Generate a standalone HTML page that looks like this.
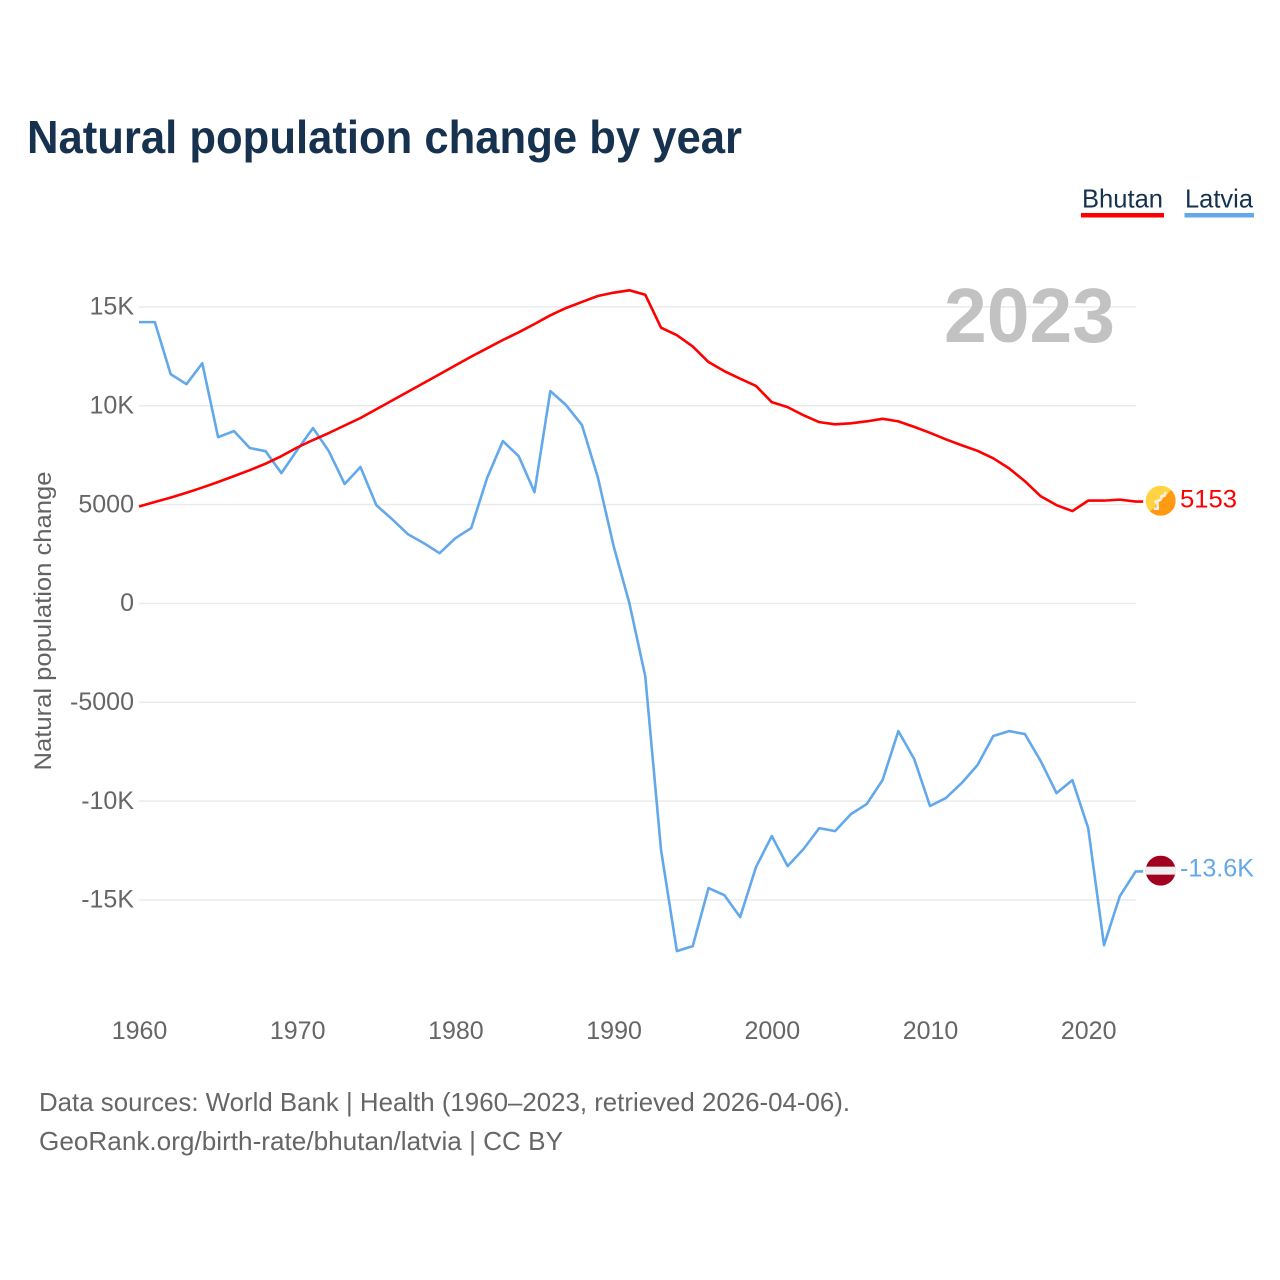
<!DOCTYPE html>
<html lang="en">
<head>
<meta charset="utf-8">
<title>Natural population change by year</title>
<style>
html,body{margin:0;padding:0;background:#fff;width:1280px;height:1280px;overflow:hidden}
svg{display:block}
text{font-family:"Liberation Sans",sans-serif}
</style>
</head>
<body>
<svg id="chart" xmlns="http://www.w3.org/2000/svg" width="1280" height="1280" viewBox="0 0 1280 1280">
  <rect width="1280" height="1280" fill="#ffffff"/>
  <text x="27" y="153" font-size="46" font-weight="700" fill="#17324f" textLength="715" lengthAdjust="spacingAndGlyphs">Natural population change by year</text>

  <g>
    <text x="1082" y="207.5" font-size="26" fill="#17324f" textLength="81" lengthAdjust="spacingAndGlyphs">Bhutan</text>
    <rect x="1081" y="213" width="83" height="4.5" fill="#ff0000"/>
  </g>
  <g>
    <text x="1185" y="207.5" font-size="26" fill="#17324f" textLength="68" lengthAdjust="spacingAndGlyphs">Latvia</text>
    <rect x="1184.5" y="213" width="69.5" height="4.5" fill="#62a8eb"/>
  </g>

  <g id="grid"></g>
  <g id="yticks"></g>
  <g id="xticks"></g>
  <text transform="translate(51,621) rotate(-90)" text-anchor="middle" font-size="24.5" fill="#636363" textLength="299" lengthAdjust="spacingAndGlyphs">Natural population change</text>
  <text x="944" y="342" font-size="77" font-weight="700" fill="#c2c2c2" textLength="171" lengthAdjust="spacingAndGlyphs">2023</text>

  <path id="line-latvia" fill="none" stroke="#62a8eb" stroke-width="2.6" stroke-linejoin="round"/>
  <path id="line-bhutan" fill="none" stroke="#ff0000" stroke-width="2.6" stroke-linejoin="round"/>

  <defs>
    <clipPath id="clip-bt"><circle cx="0" cy="0" r="15"/></clipPath>
  </defs>
  <g id="flag-bhutan">
    <g clip-path="url(#clip-bt)">
      <rect x="-15" y="-15" width="30" height="30" fill="#ffd342"/>
      <polygon points="15,-15 15,15 -15,15" fill="#ff9a12"/>
      <path d="M-7,8 L-3,8 L-3,3 L-5,1 L0,-1 L1,-5 L4,-5 L5,-9" fill="none" stroke="#f4f0e6" stroke-width="2.6" stroke-linejoin="round"/>
    </g>
  </g>
  <g id="flag-latvia">
    <g clip-path="url(#clip-bt)">
      <rect x="-15" y="-15" width="30" height="30" fill="#a1001f"/>
      <rect x="-15" y="-4" width="30" height="8" fill="#efefef"/>
    </g>
  </g>
  <text id="value-bhutan" x="1180" font-size="25" fill="#ff0000" textLength="57" lengthAdjust="spacingAndGlyphs"></text>
  <text id="value-latvia" x="1180" font-size="25" fill="#62a8eb" textLength="74" lengthAdjust="spacingAndGlyphs"></text>

  <text x="39" y="1111" font-size="26" fill="#666666" textLength="811" lengthAdjust="spacingAndGlyphs">Data sources: World Bank | Health (1960–2023, retrieved 2026-04-06).</text>
  <text x="39" y="1150" font-size="26" fill="#666666" textLength="524" lengthAdjust="spacingAndGlyphs">GeoRank.org/birth-rate/bhutan/latvia | CC BY</text>
</svg>
<script>
const firstYear = 1960;
const bhutanValues = [4900,5130,5350,5600,5860,6140,6440,6740,7070,7450,7887,8266,8620,9000,9380,9820,10265,10705,11150,11595,12040,12485,12905,13325,13715,14135,14575,14945,15250,15550,15720,15840,15615,13950,13570,13000,12210,11750,11370,11000,10180,9930,9520,9170,9060,9110,9210,9340,9210,8930,8630,8300,8000,7720,7340,6830,6180,5420,4970,4670,5200,5200,5250,5153];
const latviaValues = [14230,14230,11600,11090,12150,8410,8720,7860,7700,6590,7760,8870,7700,6040,6900,4970,4260,3500,3050,2540,3300,3810,6340,8210,7450,5630,10740,10030,9020,6390,2900,0,-3680,-12480,-17590,-17340,-14400,-14760,-15870,-13340,-11770,-13290,-12430,-11370,-11520,-10660,-10150,-8940,-6460,-7870,-10250,-9850,-9090,-8180,-6710,-6460,-6610,-7980,-9600,-8940,-11370,-17290,-14810,-13560];
const yTickValues = [15000,10000,5000,0,-5000,-10000,-15000];
const yTickLabels = ["15K","10K","5000","0","-5000","-10K","-15K"];
const xTickValues = [1960,1970,1980,1990,2000,2010,2020];
const endLabelBhutan = "5153";
const endLabelLatvia = "-13.6K";

const NS = "http://www.w3.org/2000/svg";
function xScale(year){ return 139 + (year - 1960) * 15.82; }
function yScale(v){ return 603.4 - v * 0.019767; }
function linePath(values){
  let d = values.map(function(v,i){
    return (i ? "L" : "M") + xScale(firstYear + i).toFixed(2) + "," + yScale(v).toFixed(2);
  }).join(" ");
  d += " H" + (xScale(firstYear + values.length - 1) + 7.5).toFixed(2);
  return d;
}

document.getElementById("line-bhutan").setAttribute("d", linePath(bhutanValues));
document.getElementById("line-latvia").setAttribute("d", linePath(latviaValues));

const grid = document.getElementById("grid");
const yticks = document.getElementById("yticks");
const xticks = document.getElementById("xticks");

yTickValues.forEach(function(v,i){
  const ln = document.createElementNS(NS,"line");
  
  
  ln.setAttribute("x1", 139);
  ln.setAttribute("x2", 1136);
  ln.setAttribute("y1", yScale(v));
  ln.setAttribute("y2", yScale(v));
  ln.setAttribute("stroke", "#ebebeb");
  ln.setAttribute("stroke-width", "1.5");
  grid.appendChild(ln);

  const t = document.createElementNS(NS,"text");
  
  
  t.setAttribute("x", 134);
  t.setAttribute("y", yScale(v) + 7.8);
  t.setAttribute("text-anchor", "end");
  t.setAttribute("font-size", "25");
  t.setAttribute("fill", "#666666");
  t.textContent = yTickLabels[i];
  yticks.appendChild(t);
});

xTickValues.forEach(function(y){
  const t = document.createElementNS(NS,"text");
  
  
  t.setAttribute("x", xScale(y) + 0.5);
  t.setAttribute("y", 1039);
  t.setAttribute("text-anchor", "middle");
  t.setAttribute("font-size", "25");
  t.setAttribute("fill", "#666666");
  t.textContent = String(y);
  xticks.appendChild(t);
});

const lastX = xScale(firstYear + bhutanValues.length - 1) + 25;
const by = yScale(bhutanValues[bhutanValues.length - 1]);
const ly = yScale(latviaValues[latviaValues.length - 1]);
document.getElementById("flag-bhutan").setAttribute("transform", "translate(" + lastX + "," + (by - 0.8) + ")");
document.getElementById("flag-latvia").setAttribute("transform", "translate(" + lastX + "," + (ly - 0.8) + ")");
const vb = document.getElementById("value-bhutan");
vb.setAttribute("y", by + 5.8);
vb.textContent = endLabelBhutan;
const vl = document.getElementById("value-latvia");
vl.setAttribute("y", ly + 5);
vl.textContent = endLabelLatvia;
</script>
</body>
</html>
